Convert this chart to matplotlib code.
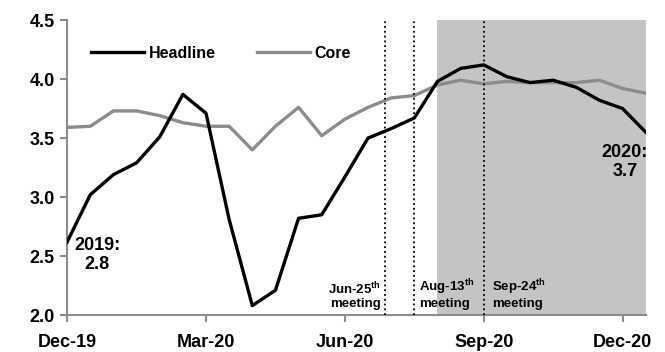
import numpy as np
import matplotlib.pyplot as plt

# Font setup (bold, Arial-like)
plt.rcParams['font.family'] = ['Liberation Sans', 'DejaVu Sans']
plt.rcParams['font.weight'] = 'bold'
plt.rcParams['mathtext.fontset'] = 'custom'
plt.rcParams['mathtext.rm'] = 'Liberation Sans:bold'
plt.rcParams['mathtext.bf'] = 'Liberation Sans:bold'

# Semi-monthly readings, Dec-19 .. Dec-20 (2H)
headline = [2.62, 3.02, 3.19, 3.29, 3.51, 3.87, 3.71, 2.81, 2.08, 2.21,
            2.82, 2.85, 3.17, 3.50, 3.58, 3.67, 3.98, 4.09, 4.12, 4.02,
            3.97, 3.99, 3.93, 3.82, 3.75, 3.55]
core = [3.59, 3.60, 3.73, 3.73, 3.69, 3.63, 3.60, 3.60, 3.40, 3.60,
        3.76, 3.52, 3.66, 3.76, 3.84, 3.86, 3.95, 3.99, 3.96, 3.98,
        3.97, 3.97, 3.97, 3.99, 3.92, 3.88]
tick_pos = [0, 6, 12, 18, 24]
tick_labels = ['Dec-19', 'Mar-20', 'Jun-20', 'Sep-20', 'Dec-20']
meetings = [13.75, 15.0, 18.0]
meeting_labels = ['Jun-25$^{\\mathrm{th}}$\nmeeting',
                  'Aug-13$^{\\mathrm{th}}$\nmeeting',
                  'Sep-24$^{\\mathrm{th}}$\nmeeting']
shade_start = 16

x = np.arange(len(headline))

fig = plt.figure(figsize=(6.65, 3.52), dpi=100)
ax = fig.add_axes([0.101, 0.105, 0.870, 0.838])

# Shaded period
ax.axvspan(shade_start, len(headline) - 1, color='#c4c4c4', lw=0, zorder=0)

ax.plot(x, headline, color='black', lw=2.4, label='Headline', zorder=3)
ax.plot(x, core, color='#8c8c8c', lw=2.4, label='Core', zorder=2)

# Meeting lines and labels
for i, (m, lab) in enumerate(zip(meetings, meeting_labels)):
    ax.axvline(m, color='black', ls=':', lw=1.3, zorder=4)
    if i == 0:
        ax.text(m - 0.2, 2.04, lab, ha='right', va='bottom', fontsize=9.5,
                linespacing=1.1)
    else:
        ax.text(m + 0.2 + (0.15 if i == 2 else 0), 2.04, lab, ha='left',
                va='bottom', fontsize=9.5, linespacing=1.1)

ax.text(1.3, 2.51, '2019:\n2.8', ha='center', va='center', fontsize=13,
        linespacing=1.15)
ax.text(24.1, 3.30, '2020:\n3.7', ha='center', va='center', fontsize=13,
        linespacing=1.15)

ax.set_xlim(0, len(headline) - 1)
ax.set_ylim(2.0, 4.5)
ax.set_xticks(tick_pos)
ax.set_xticklabels(tick_labels)
ax.set_yticks([2.0, 2.5, 3.0, 3.5, 4.0, 4.5])
ax.set_yticklabels(['2.0', '2.5', '3.0', '3.5', '4.0', '4.5'])

for side in ['top', 'right']:
    ax.spines[side].set_visible(False)
for side in ['left', 'bottom']:
    ax.spines[side].set_color('#8c8c8c')
    ax.spines[side].set_linewidth(1.5)
ax.tick_params(axis='both', colors='#8c8c8c', labelcolor='black',
               labelsize=13, length=5, width=1.5)
ax.tick_params(axis='x', pad=9)
ax.tick_params(axis='y', pad=4)

ax.legend(loc='upper left', bbox_to_anchor=(0.03, 0.935), ncol=2,
          frameon=False, fontsize=11.5, handlelength=3.3, handletextpad=0.3,
          columnspacing=2.6, borderaxespad=0)

fig.savefig('out.png', dpi=100)
